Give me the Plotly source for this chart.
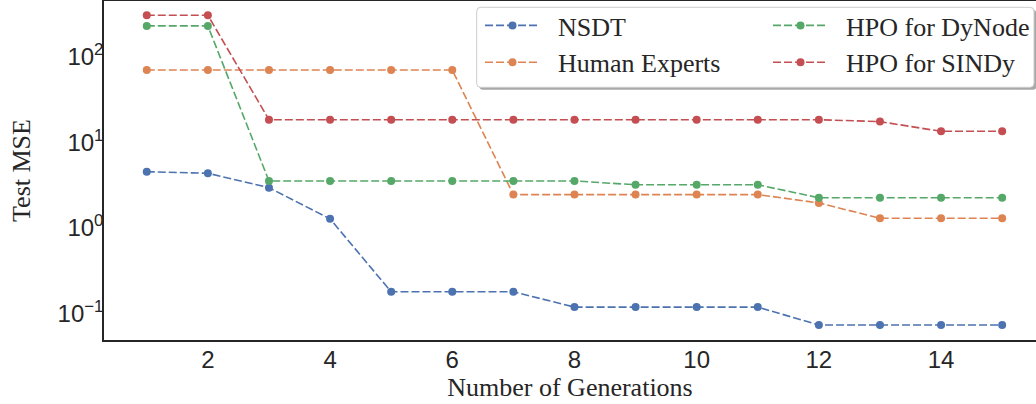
import plotly.graph_objects as go

# ---------------- data ----------------
generations = [1, 2, 3, 4, 5, 6, 7, 8, 9, 10, 11, 12, 13, 14, 15]
nsdt = [4.52, 4.33, 2.94, 1.27, 0.178, 0.178, 0.178, 0.118, 0.118, 0.118, 0.118,
        0.0728, 0.0728, 0.0728, 0.0728]
human_experts = [69.8, 69.8, 69.8, 69.8, 69.8, 69.8, 2.44, 2.44, 2.44, 2.44, 2.44,
                 1.95, 1.29, 1.29, 1.29]
hpo_dynode = [229, 229, 3.52, 3.52, 3.52, 3.52, 3.52, 3.52, 3.18, 3.18, 3.18,
              2.24, 2.24, 2.24, 2.24]
hpo_sindy = [305, 305, 18.3, 18.3, 18.3, 18.3, 18.3, 18.3, 18.3, 18.3, 18.3,
             18.3, 17.4, 13.4, 13.4]

series_names = ["NSDT", "Human Experts", "HPO for DyNode", "HPO for SINDy"]
series_values = [nsdt, human_experts, hpo_dynode, hpo_sindy]
series_colors = ["#4c72b0", "#dd8452", "#55a868", "#c44e52"]
series_legend = ["legend", "legend", "legend2", "legend2"]

x_tick_vals = [2, 4, 6, 8, 10, 12, 14]
y_tick_vals = [0.1, 1, 10, 100]
y_tick_text = ["10<sup>\u22121</sup>", "10<sup>0</sup>", "10<sup>1</sup>", "10<sup>2</sup>"]

# ---------------- layout geometry ----------------
W, H = 1036, 404
ML, MR, MT, MB = 104, 0, 1, 64
PW, PH = W - ML - MR, H - MT - MB

INK = "#262626"
SERIF = "Liberation Serif"
SANS = "Liberation Sans"
PAD = "\u00a0\u00a0"  # gap between legend handle and label


def px_x(p):
    return (p - ML) / PW


def px_y(p):
    return (H - MB - p) / PH


def rounded_rect(x0, y0, x1, y1, r):
    rx = r / PW
    ry = r / PH
    X0, X1 = px_x(x0), px_x(x1)
    Y0, Y1 = px_y(y0), px_y(y1)  # Y0 top (larger), Y1 bottom
    return (f"M{X0 + rx},{Y0} L{X1 - rx},{Y0} Q{X1},{Y0} {X1},{Y0 - ry} "
            f"L{X1},{Y1 + ry} Q{X1},{Y1} {X1 - rx},{Y1} "
            f"L{X0 + rx},{Y1} Q{X0},{Y1} {X0},{Y1 + ry} "
            f"L{X0},{Y0 - ry} Q{X0},{Y0} {X0 + rx},{Y0} Z")


fig = go.Figure()
for name, vals, col, lg in zip(series_names, series_values, series_colors, series_legend):
    fig.add_trace(go.Scatter(
        x=generations, y=vals, name=PAD + name, mode="lines+markers",
        line=dict(color=col, width=1.6, dash="8px,3px"),
        marker=dict(color=col, size=8),
        legend=lg, legendgroup=name,
    ))

# legend frame with shadow
box = (476.7, 7.3, 1034, 87.3)
fig.add_shape(type="path", xref="paper", yref="paper", layer="above",
              path=rounded_rect(box[0] + 2.5, box[1] + 2.5, box[2] + 2.5, box[3] + 2.5, 4),
              fillcolor="#a8a8a8", line=dict(width=0))
fig.add_shape(type="path", xref="paper", yref="paper", layer="above",
              path=rounded_rect(*box, 4),
              fillcolor="white", line=dict(color="#cccccc", width=1))

legend_common = dict(
    bgcolor="rgba(0,0,0,0)", borderwidth=0,
    font=dict(family=SERIF, size=26, color=INK),
    yanchor="top", xanchor="left", orientation="v",
    tracegroupgap=0, itemwidth=55,
)
fig.update_layout(
    legend=dict(x=px_x(480), y=px_y(2), **legend_common),
    legend2=dict(x=px_x(768), y=px_y(2), **legend_common),
)

fig.update_layout(
    width=W, height=H,
    margin=dict(l=ML, r=MR, t=MT, b=MB, autoexpand=False),
    paper_bgcolor="white", plot_bgcolor="white",
    showlegend=True,
)
fig.update_xaxes(
    range=[0.3, 0.3 + PW / 61.1],
    tickvals=x_tick_vals,
    showgrid=False, zeroline=False,
    showline=True, mirror=True, linecolor=INK, linewidth=1.5,
    ticks="", ticklabelstandoff=-3,
    tickfont=dict(family=SANS, size=24, color=INK),
    title=dict(text="Number of Generations", font=dict(family=SERIF, size=26, color=INK),
               standoff=3),
)
fig.update_yaxes(
    type="log",
    range=[-1.313, 2.651],
    tickvals=y_tick_vals, ticktext=y_tick_text,
    showgrid=False, zeroline=False,
    showline=True, mirror=False, linecolor=INK, linewidth=1.5,
    ticks="", ticklabelstandoff=-6,
    tickfont=dict(family=SANS, size=24, color=INK),
    title=dict(text="Test MSE", font=dict(family=SERIF, size=26, color=INK), standoff=20),
)

fig.write_html("out.html", config={"displayModeBar": False},
               post_script="document.body.style.margin='0';")
